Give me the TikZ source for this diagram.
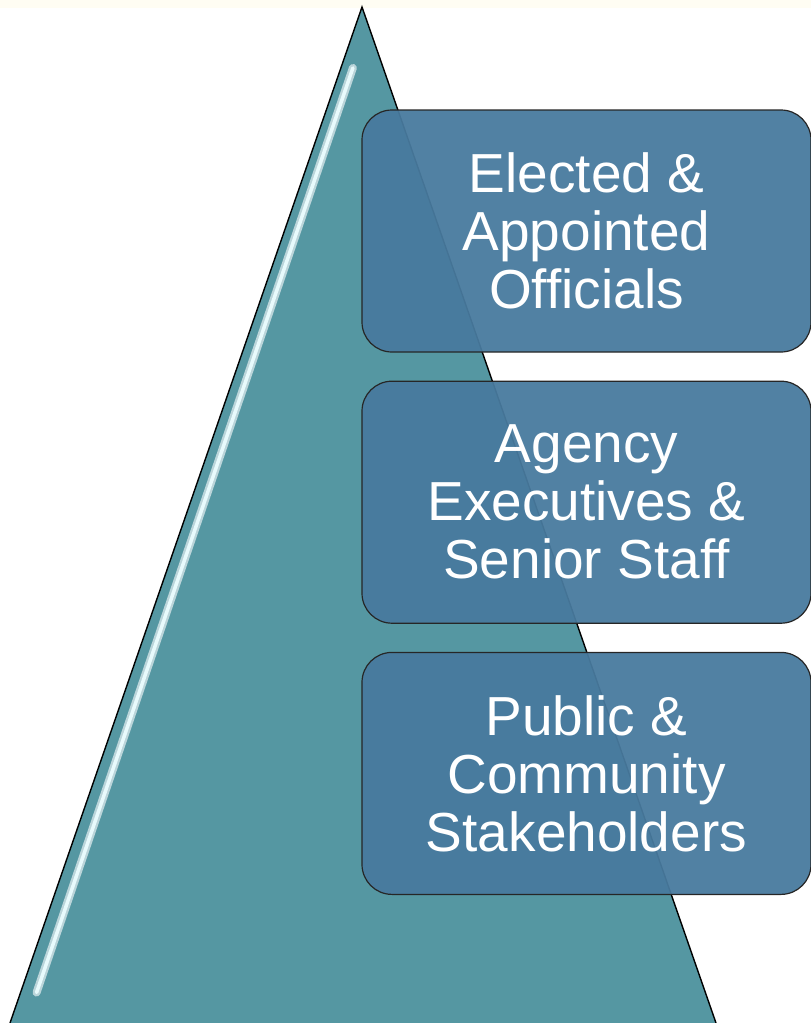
\documentclass[tikz,border=0pt]{standalone}
\usepackage{fontspec}
\setmainfont{Liberation Sans}
\usetikzlibrary{positioning,calc}
\definecolor{pyrteal}{HTML}{5597A2}
\definecolor{pyrhigh}{HTML}{E8FAFC}
\definecolor{boxblue}{HTML}{487A9E}
\definecolor{topcream}{HTML}{FFFDF3}
\tikzstyle{tier} = [rectangle, draw=black!85, line width=1.2pt, fill=boxblue, fill opacity=0.95, text opacity=1, text=white, rounded corners=30pt, minimum width=449pt, minimum height=242pt, align=center, font=\fontsize{55}{58}\selectfont]
\tikzstyle{edge} = [draw=black, line width=1.4pt]

\begin{document}
\begin{tikzpicture}[x=1pt, y=-1pt, node distance=28pt]
        \useasboundingbox (0,0) rectangle (811,1023);
        \fill[topcream] (0,0) rectangle (811,8);

        % pyramid
        \coordinate (apex)  at (362,7);
        \coordinate (left)  at (10,1023);
        \coordinate (right) at (716,1023);
        \fill[pyrteal] (apex) -- (left) -- (right) -- cycle;
        \draw[pyrteal!40!white, line width=8pt, line cap=round] ($(apex)!0.06!(left)+(12,0)$) -- ($(apex)!0.97!(left)+(16,0)$);
        \draw[pyrhigh, line width=3.5pt, line cap=round] ($(apex)!0.06!(left)+(12,0)$) -- ($(apex)!0.97!(left)+(16,0)$);
        \path[edge] (left) -- (apex) -- (right);

        % tiers
        \node[tier]                  (elct) at (586.5,231) {Elected \&\\Appointed\\Officials};
        \node[tier, below= of elct]  (exec) {Agency\\Executives \&\\Senior Staff};
        \node[tier, below= of exec]  (publ) {Public \&\\Community\\Stakeholders};
      \end{tikzpicture}
\end{document}
